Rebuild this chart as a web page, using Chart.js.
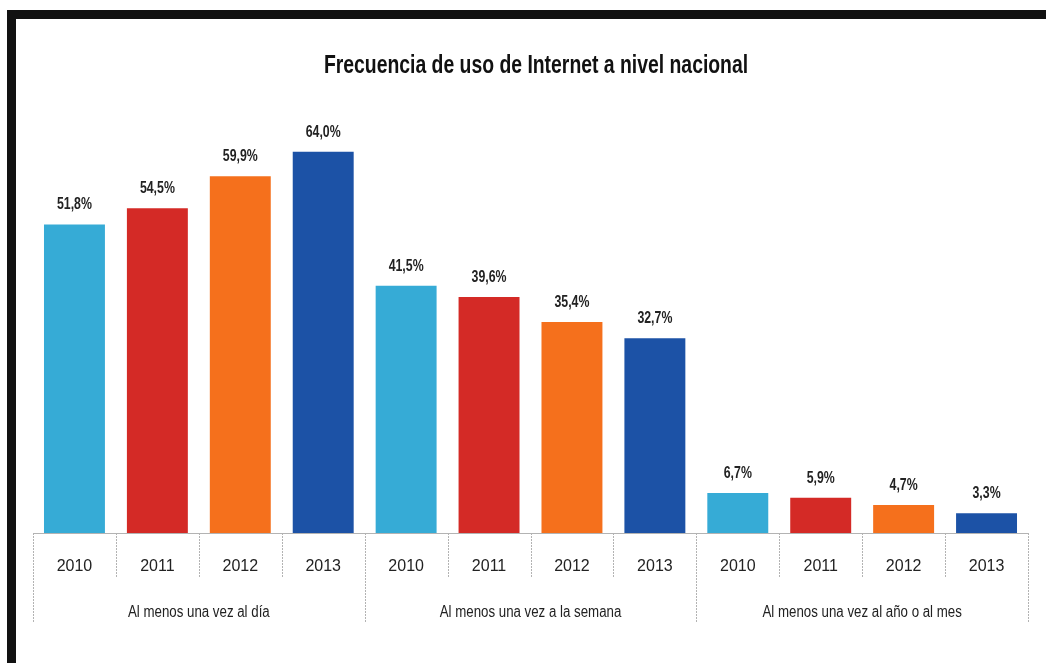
<!DOCTYPE html>
<html>
<head>
<meta charset="utf-8">
<script src="https://cdn.jsdelivr.net/npm/chart.js@4.4.1/dist/chart.umd.min.js"></script>
<style>
  body { margin: 0; background: #fff; overflow: hidden; }
  #marco {
    position: absolute; left: 7px; top: 10px; width: 1046px; height: 648px;
    border-left: 9px solid #111; border-top: 9px solid #111; border-bottom: 5px solid #111;
    pointer-events: none;
  }
  #grafico { position: absolute; left: 0; top: 0; }
</style>
</head>
<body>
<canvas id="grafico" width="1046" height="663"></canvas>
<div id="marco"></div>
<script>
// datos
const titulo = "Frecuencia de uso de Internet a nivel nacional";
const anios = ["2010", "2011", "2012", "2013"];
const grupos = ["Al menos una vez al día", "Al menos una vez a la semana", "Al menos una vez al año o al mes"];
const valores = [51.8, 54.5, 59.9, 64.0, 41.5, 39.6, 35.4, 32.7, 6.7, 5.9, 4.7, 3.3];
const coloresAnio = ["#36abd6", "#d42a26", "#f5701c", "#1c52a6"];

const etiquetas = [];
const colores = [];
grupos.forEach(function (g) {
  anios.forEach(function (a, j) {
    etiquetas.push(a);
    colores.push(coloresAnio[j]);
  });
});

const fuente = "'Liberation Sans', Arial, sans-serif";

// texto estrecho (la fuente original es condensada)
function textoEstrecho(ctx, txt, x, y, escala) {
  ctx.save();
  ctx.translate(x, y);
  ctx.scale(escala, 1);
  ctx.fillText(txt, 0, 0);
  ctx.restore();
}

// titulo y etiquetas de valor encima de cada barra
const etiquetasValor = {
  id: "etiquetasValor",
  afterDatasetsDraw(chart) {
    const ctx = chart.ctx;
    const meta = chart.getDatasetMeta(0);
    ctx.save();
    ctx.fillStyle = "#111";
    ctx.textAlign = "center";
    ctx.textBaseline = "alphabetic";
    ctx.font = "bold 25px " + fuente;
    textoEstrecho(ctx, titulo, 536, 73, 0.775);
    ctx.fillStyle = "#222";
    ctx.font = "bold 16px " + fuente;
    meta.data.forEach(function (bar, i) {
      textoEstrecho(ctx, valores[i].toFixed(1).replace(".", ",") + "%", bar.x, bar.y - 15, 0.77);
    });
    ctx.restore();
  }
};

// lineas de la tabla bajo el eje y nombres de los grupos
const tablaEje = {
  id: "tablaEje",
  afterDraw(chart) {
    const ctx = chart.ctx;
    const x = chart.scales.x;
    const base = chart.chartArea.bottom;
    const n = etiquetas.length;
    ctx.save();
    ctx.strokeStyle = "#b3b3b3";
    ctx.lineWidth = 1;
    ctx.setLineDash([2, 1]);
    for (let i = 0; i <= n; i++) {
      let px;
      if (i === 0) px = x.left;
      else if (i === n) px = x.right;
      else px = (x.getPixelForValue(i - 1) + x.getPixelForValue(i)) / 2;
      const largo = (i % anios.length === 0) ? 90 : 45;
      ctx.beginPath();
      ctx.moveTo(Math.round(px) + 0.5, base);
      ctx.lineTo(Math.round(px) + 0.5, base + largo);
      ctx.stroke();
    }
    ctx.setLineDash([]);
    ctx.fillStyle = "#222";
    ctx.font = "16px " + fuente;
    ctx.textAlign = "center";
    ctx.textBaseline = "alphabetic";
    grupos.forEach(function (g, k) {
      const a = x.getPixelForValue(k * anios.length);
      const b = x.getPixelForValue(k * anios.length + anios.length - 1);
      textoEstrecho(ctx, g, (a + b) / 2, base + 84, 0.83);
    });
    ctx.restore();
  }
};

new Chart(document.getElementById("grafico"), {
  type: "bar",
  data: {
    labels: etiquetas,
    datasets: [{
      data: valores,
      backgroundColor: colores,
      barPercentage: 0.735,
      categoryPercentage: 1.0
    }]
  },
  options: {
    responsive: false,
    animation: false,
    layout: { padding: { left: 33, right: 18, top: 116, bottom: 0 } },
    plugins: {
      legend: { display: false },
      tooltip: { enabled: false },
      title: { display: false }
    },
    scales: {
      x: {
        grid: { display: false, drawTicks: false },
        border: { display: true, color: "#b3b3b3", width: 1 },
        ticks: { color: "#222", padding: 24, font: { family: fuente, size: 16 } },
        afterFit: function (scale) { scale.height = 130; }
      },
      y: {
        display: false,
        min: 0,
        max: 70
      }
    }
  },
  plugins: [etiquetasValor, tablaEje]
});
</script>
</body>
</html>
